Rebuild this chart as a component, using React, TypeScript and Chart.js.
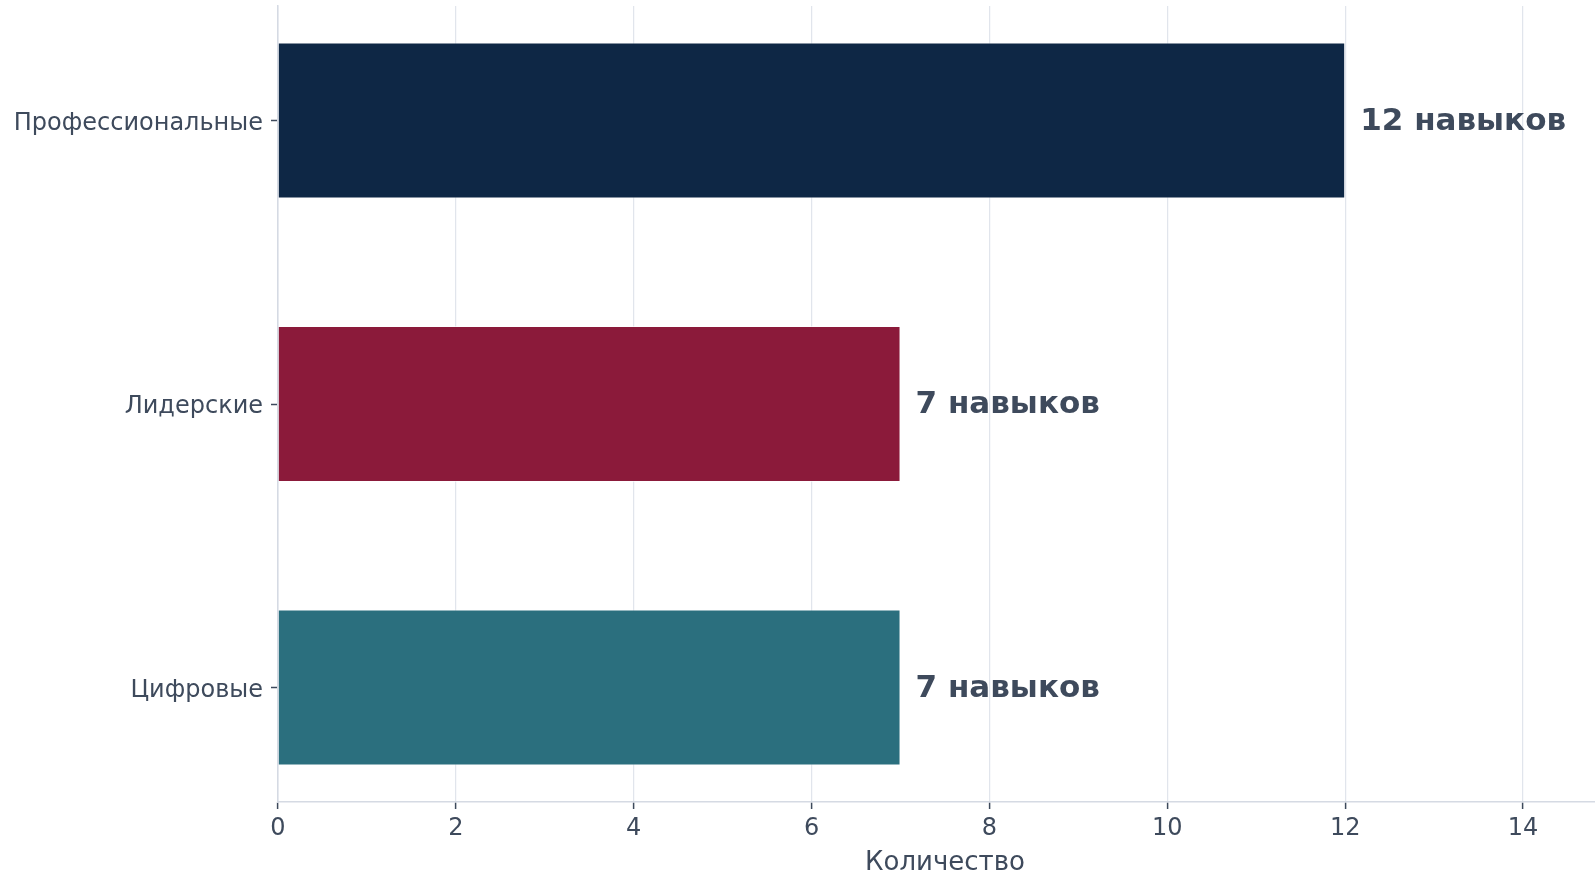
import React, { useEffect, useRef } from "react";
import { Chart, registerables } from "chart.js";

Chart.register(...registerables);

const categories = ["Цифровые", "Лидерские", "Профессиональные"];
const skillCounts = [7, 7, 12];
const barColors = ["#2b6f7e", "#8b1a3a", "#0e2745"];
const xTickValues = [0, 2, 4, 6, 8, 10, 12, 14];
const valueSuffix = "навыков";
const xAxisTitle = "Количество";

const TEXT = "#3e4a5c";
const FONT = "'DejaVu Sans', sans-serif";

const valueLabelPlugin = {
  id: "valueLabels",
  afterDraw(chart: any) {
    const meta = chart.getDatasetMeta(0);
    const ctx = chart.ctx;
    ctx.save();
    ctx.font = `bold 31px ${FONT}`;
    ctx.fillStyle = TEXT;
    ctx.textAlign = "left";
    ctx.textBaseline = "middle";
    meta.data.forEach((bar: any, i: number) => {
      ctx.fillText(`${skillCounts[i]} ${valueSuffix}`, bar.x + 15, bar.y + 1);
    });
    ctx.restore();
  },
};

export default function App() {
  const ref = useRef<HTMLCanvasElement | null>(null);
  useEffect(() => {
    if (!ref.current) return;
    const chart = new Chart(ref.current, {
      type: "bar",
      data: {
        datasets: [
          {
            data: categories.map((_, i) => ({ x: skillCounts[i], y: i })) as any,
            backgroundColor: barColors,
            borderColor: "rgba(255,255,255,0.6)",
            borderWidth: 1,
            barPercentage: 0.55,
            categoryPercentage: 1,
          },
        ],
      },
      options: {
        indexAxis: "y",
        animation: false,
        responsive: false,
        maintainAspectRatio: false,
        layout: { padding: { top: 6, left: 0, right: 0, bottom: 0 } },
        plugins: { legend: { display: false }, tooltip: { enabled: false } },
        scales: {
          x: {
            type: "linear",
            position: "bottom",
            min: 0,
            max: 15,
            z: 1,
            afterBuildTicks: (axis: any) => {
              axis.ticks = xTickValues.map((v) => ({ value: v }));
            },
            afterFit: (s: any) => {
              s.height = 73;
            },
            grid: {
              color: "rgba(195,203,218,0.5)",
              lineWidth: 1.2,
              drawTicks: true,
              tickLength: 7,
              tickColor: TEXT,
              tickWidth: 1.5,
            },
            border: { color: "#d5dae3", width: 1.5 },
            ticks: {
              color: TEXT,
              font: { family: FONT, size: 24 },
              padding: 5,
              maxRotation: 0,
            },
            title: {
              display: true,
              text: xAxisTitle,
              color: TEXT,
              font: { family: FONT, size: 26 },
              padding: { top: 4, bottom: -4 },
            },
          },
          y: {
            type: "linear",
            min: -0.404,
            max: 2.404,
            offset: false,
            afterBuildTicks: (axis: any) => {
              axis.ticks = categories.map((_, i) => ({ value: i }));
            },
            afterFit: (s: any) => {
              s.width = 278;
              s.paddingTop = 0;
              s.paddingBottom = 0;
            },
            grid: {
              offset: false,
              drawOnChartArea: false,
              drawTicks: true,
              tickLength: 7,
              tickColor: TEXT,
              tickWidth: 1.5,
            },
            border: { color: "#d5dae3", width: 1.5 },
            ticks: {
              color: TEXT,
              font: { family: FONT, size: 24 },
              padding: 8,
              labelOffset: 3,
              callback: (v: any) => categories[v as number] ?? "",
            },
          },
        },
      },
      plugins: [valueLabelPlugin],
    } as any);
    return () => chart.destroy();
  }, []);
  return (
    <div style={{ position: "absolute", left: 0, top: 0, width: 1595, height: 875, overflow: "hidden", background: "#ffffff" }}>
      <canvas ref={ref} width={1612} height={875} style={{ width: 1612, height: 875, display: "block" }} />
    </div>
  );
}
